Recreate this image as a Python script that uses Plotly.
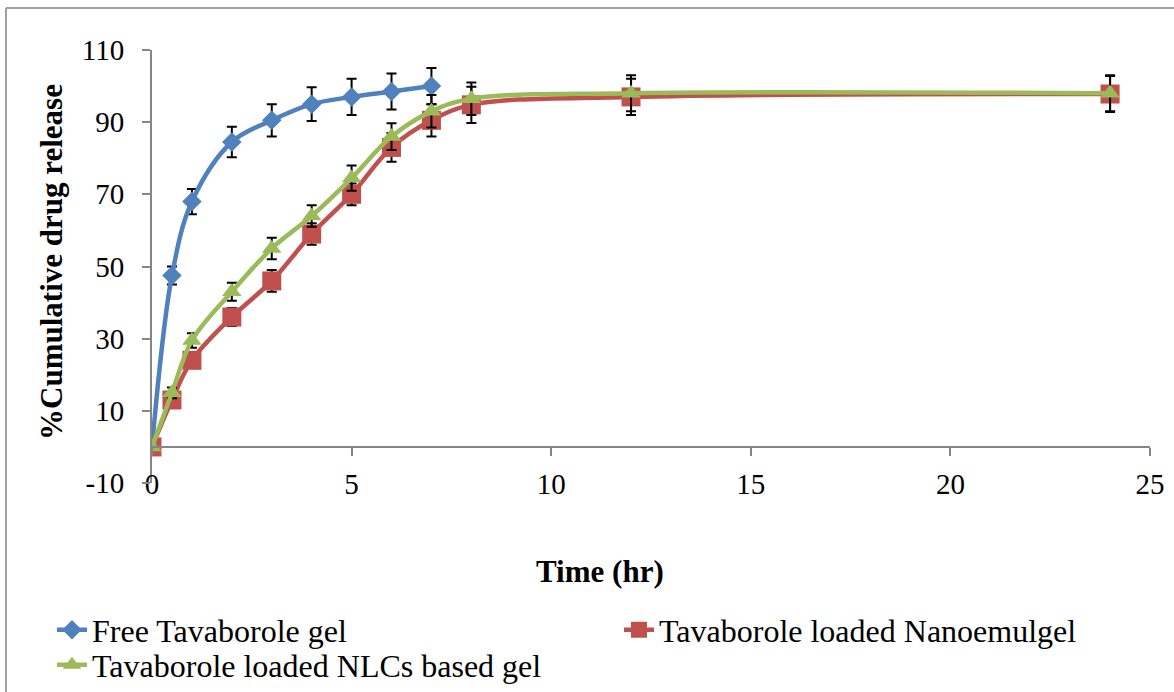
import plotly.graph_objects as go

# Data
t_free = [0, 0.5, 1, 2, 3, 4, 5, 6, 7]
free_vals = [0, 47.5, 68, 84.5, 90.5, 95, 97, 98.5, 100]
free_err = [0, 2.5, 3.5, 4.2, 4.5, 4.7, 5, 5, 5]

t_ng = [0, 0.5, 1, 2, 3, 4, 5, 6, 7, 8, 12, 24]
nano_vals = [0, 13, 24, 36, 46, 59, 70, 83, 90.5, 94.8, 97, 97.8]
nano_err = [0, 1.5, 2, 2.5, 3, 3, 3, 4, 4.5, 5, 5, 5]

nlc_vals = [0, 15, 29.5, 43, 55, 64, 74.5, 86, 93, 96.5, 98, 98]
nlc_err = [0, 1.5, 2, 2.5, 3, 3, 3.5, 3.7, 4.5, 4.5, 5, 5]

names = ["Free Tavaborole gel", "Tavaborole loaded Nanoemulgel", "Tavaborole loaded NLCs based gel"]
colors = ["#4F81BD", "#C0504D", "#9BBB59"]

x_ticks = [0, 5, 10, 15, 20, 25]
y_ticks = [-10, 10, 30, 50, 70, 90, 110]

FONT = "Liberation Serif, Times New Roman, serif"

# pixel geometry of the plot area
L, R, T, B = 152, 1150, 50, 483
W, H = 1174, 692
PW, PH = R - L, B - T

def px(x):
    return (x - L) / PW

def py(y):
    return (B - y) / PH

fig = go.Figure()

def add_series(x, y, err, name, color, symbol, size, legend):
    fig.add_trace(go.Scatter(
        x=x, y=y, name=name, mode="lines+markers",
        line=dict(color=color, width=4.5, shape="spline", smoothing=1),
        marker=dict(color=color, symbol=symbol, size=size),
        error_y=dict(type="data", array=err, visible=True, color="black",
                     thickness=2, width=5),
        xaxis="x", yaxis="y", legend=legend,
    ))

add_series(t_free, free_vals, free_err, names[0], colors[0], "diamond", 15, "legend")
add_series(t_ng, nano_vals, nano_err, names[1], colors[1], "square", 19, "legend2")
add_series(t_ng, nlc_vals, nlc_err, names[2], colors[2], "triangle-up", 17, "legend3")

# invisible trace on the second x axis (axis line at y = 0)
fig.add_trace(go.Scatter(x=[0], y=[0], xaxis="x2", yaxis="y", mode="markers",
                         marker=dict(opacity=0), showlegend=False, hoverinfo="skip"))

leg_common = dict(font=dict(family=FONT, size=32), bgcolor="rgba(0,0,0,0)",
                  xanchor="left", yanchor="middle", orientation="h")

fig.update_layout(
    width=W, height=H,
    margin=dict(l=L, r=W - R, t=T, b=H - B, autoexpand=False),
    paper_bgcolor="white", plot_bgcolor="white",
    font=dict(family=FONT, size=29, color="black"),
    showlegend=True,
    xaxis=dict(
        range=[0, 25], tickvals=x_ticks, ticktext=[str(v) for v in x_ticks],
        anchor="free", position=py(464),
        showline=False, showgrid=False, zeroline=False, ticks="",
        tickfont=dict(family=FONT, size=29),
    ),
    xaxis2=dict(
        range=[0, 25], tickvals=x_ticks, overlaying="x", anchor="free",
        position=10 / 120, side="bottom",
        showline=True, linecolor="#868686", linewidth=2,
        ticks="outside", ticklen=8, tickcolor="#868686", tickwidth=2,
        showticklabels=False, showgrid=False, zeroline=False,
    ),
    yaxis=dict(
        range=[-10, 110], tickvals=y_ticks, ticktext=[str(v) for v in y_ticks],
        showline=True, linecolor="#868686", linewidth=2,
        ticks="outside", ticklen=8, tickcolor="#868686", tickwidth=2,
        showgrid=False, zeroline=False, ticklabelstandoff=12,
        tickfont=dict(family=FONT, size=29),
    ),
    legend=dict(x=px(52), y=py(630), **leg_common),
    legend2=dict(x=px(619), y=py(630), **leg_common),
    legend3=dict(x=px(52), y=py(665), **leg_common),
    annotations=[
        dict(text="<b>Time (hr)</b>", xref="paper", yref="paper",
             x=px(600), y=py(571), xanchor="center", yanchor="middle",
             showarrow=False, font=dict(family=FONT, size=31)),
        dict(text="<b>%Cumulative drug release</b>", xref="paper", yref="paper",
             x=px(51), y=py(262), xanchor="center", yanchor="middle",
             textangle=-90, showarrow=False, font=dict(family=FONT, size=31)),
    ],
    shapes=[
        dict(type="line", xref="paper", yref="paper",
             x0=px(6), x1=px(W), y0=py(8), y1=py(8),
             line=dict(color="#A0A0A0", width=2)),
        dict(type="line", xref="paper", yref="paper",
             x0=px(6), x1=px(6), y0=py(8), y1=py(H),
             line=dict(color="#A0A0A0", width=2)),
    ],
)

fig.write_html("out.html", config={"displayModeBar": False},
               post_script="document.body.style.margin='0px';")
